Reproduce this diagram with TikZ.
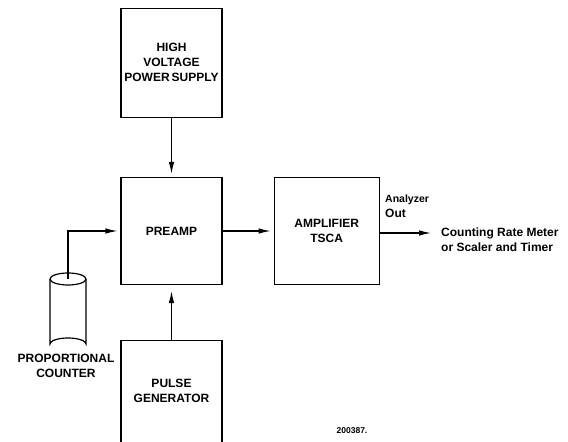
\documentclass[tikz,border=0pt]{standalone}
\usepackage{fontspec}
\setmainfont{Liberation Sans}
\usetikzlibrary{arrows.meta,positioning}

\begin{document}
\begin{tikzpicture}[x=1pt,y=-1pt,font=\bfseries\fontsize{12}{15}\selectfont,
  b/.style={draw,line width=1.2pt,minimum width=101pt,minimum height=107pt,align=center,inner sep=0pt},
  lbl/.style={align=left,inner sep=0pt,anchor=west},
  arr/.style={-{Latex[length=12pt,width=5.5pt]},line width=1.1pt,shorten >=3pt}]
\useasboundingbox (0,0) rectangle (568,442);
\node[b] (pre) at (171.5,231) {PREAMP};
\node[b,minimum height=109pt,above=59pt of pre] (hv) {HIGH\\VOLTAGE\\POWER\,SUPPLY};
\node[b,minimum width=105pt,right=51pt of pre] (amp) {\fontsize{12}{18}\selectfont AMPLIFIER\\TSCA};
\node[b,minimum height=102pt,below=54.5pt of pre] (pulse) {\fontsize{12}{18}\selectfont PULSE\\GENERATOR};
% proportional counter
\draw[line width=1.2pt] (50,279) -- (50,344) arc[start angle=180,end angle=360,x radius=18,y radius=6] -- (86,279);
\draw[line width=1.2pt] (68,279) ellipse[x radius=18,y radius=6];
\coordinate (wire) at (68,279);
\node[align=center,inner sep=0pt] (cntlbl) at (66,366) {PROPORTIONAL\\COUNTER};
\coordinate (outend) at (431,233);
\node[lbl] (anout) at (385,206) {\fontsize{10.5}{15}\selectfont Analyzer\\Out};
\node[lbl] (dest) at (441,240) {\fontsize{12}{17.5}\selectfont Counting Rate Meter\\or Scaler and Timer};
\node[inner sep=0pt] (num) at (352,431) {\fontsize{8.5}{10}\selectfont 200387.};
\draw[arr] (hv)--(pre);
\draw[arr,shorten >=6pt] (pulse)--(pre);
\draw[arr] (wire)|-(pre.west);
\draw[arr] (pre)--(amp);
\draw[arr,shorten >=0pt] (amp.east|-outend)--(outend);
\end{tikzpicture}
\end{document}
